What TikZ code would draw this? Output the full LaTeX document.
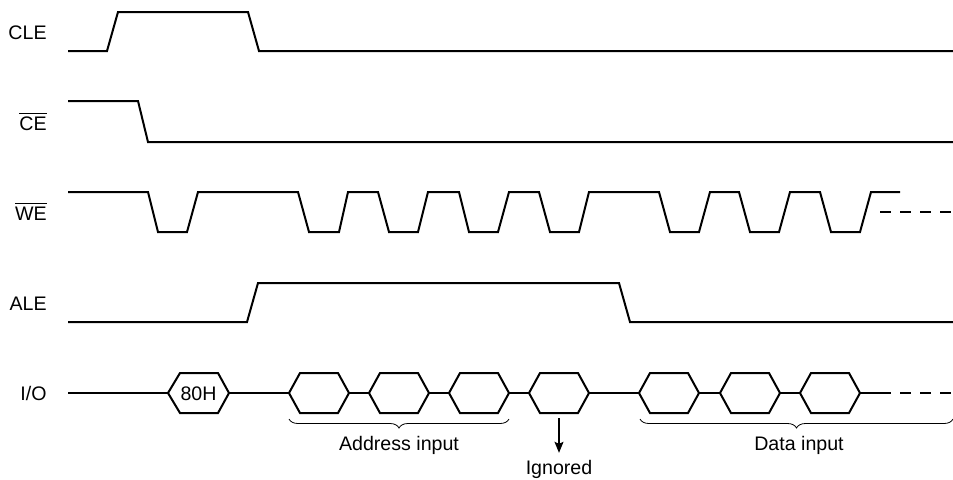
\documentclass[tikz,border=0pt]{standalone}
\usepackage{fontspec}
\setmainfont{Liberation Sans}
\usetikzlibrary{arrows.meta,decorations.pathreplacing}

\begin{document}
\begin{tikzpicture}[x=0.5pt,y=-0.5pt,>={Stealth[length=5.5pt,width=4.5pt,inset=1pt]},
  sig/.style={line width=1pt,line join=miter},
  dsig/.style={line width=1pt,dash pattern=on 5.5pt off 4.5pt},
  lbl/.style={anchor=base east,inner sep=0pt,font=\fontsize{9.8}{12}\selectfont},
  txt/.style={anchor=base,inner sep=0pt,font=\fontsize{9.8}{12}\selectfont},
  brc/.style={thin,decorate,decoration={brace,amplitude=4.5pt}}]
\useasboundingbox (0,0) rectangle (953,479);
% signal names
\node[lbl] (cle) at (47,39) {CLE};
\node[lbl] (ce) at (47,130) {$\overline{\mbox{CE}}$};
\node[lbl] (we) at (47,220) {$\overline{\mbox{WE}}$};
\node[lbl] (ale) at (47,310) {ALE};
\node[lbl] (io) at (47,400) {I/O};
% CLE
\draw[sig](68,51)--(107,51)--(118,12)--(248,12)--(259,51)--(953,51);
% CE
\draw[sig](68,101)--(138,101)--(148,142)--(953,142);
% WE
\draw[sig](68,192)--(148,192)--(158,232)--(187,232)--(198,192)
--(298,192)--(309,232)--(339,232)--(348,192)
--(378,192)--(389,232)--(418,232)--(428,192)
--(459,192)--(469,232)--(498,232)--(509,192)
--(539,192)--(550,232)--(579,232)--(589,192)
--(659,192)--(670,232)--(699,232)--(710,192)
--(739,192)--(750,232)--(779,232)--(790,192)
--(820,192)--(831,232)--(860,232)--(871,192)--(900,192);
\draw[dsig](880,212)--(953,212);
% ALE
\draw[sig](68,322)--(247,322)--(258,283)--(619,283)--(630,322)--(953,322);
% I/O
\draw[sig](68,393)--(168,393)
(229,393)--(289,393)
(349,393)--(369,393)
(429,393)--(449,393)
(509,393)--(529,393)
(589,393)--(639,393)
(699,393)--(720,393)
(780,393)--(800,393)
(860,393)--(880,393);
\draw[dsig](880,393)--(953,393);
\draw[sig](168,393)--(180,373)--(218,373)--(229,393)--(218,413)--(180,413)--cycle
(289,393)--(300,373)--(338,373)--(349,393)--(338,413)--(300,413)--cycle
(369,393)--(380,373)--(418,373)--(429,393)--(418,413)--(380,413)--cycle
(449,393)--(460,373)--(498,373)--(509,393)--(498,413)--(460,413)--cycle
(529,393)--(540,373)--(578,373)--(589,393)--(578,413)--(540,413)--cycle
(639,393)--(650,373)--(688,373)--(699,393)--(688,413)--(650,413)--cycle
(720,393)--(731,373)--(769,373)--(780,393)--(769,413)--(731,413)--cycle
(800,393)--(811,373)--(849,373)--(860,393)--(849,413)--(811,413)--cycle;
\node[txt] (cmd) at (198.5,400) {80H};
% braces and notes
\draw[brc](509,419)--(289,419);
\draw[brc](953,419)--(640,419);
\node[txt] (addr) at (399,450) {Address input};
\node[txt] (data) at (799,450) {Data input};
\node[txt] (ign) at (559,474) {Ignored};
\coordinate (skip) at (559,418);
\draw[->,semithick,shorten >=3.3pt](skip)--(ign.north);
\end{tikzpicture}
\end{document}
